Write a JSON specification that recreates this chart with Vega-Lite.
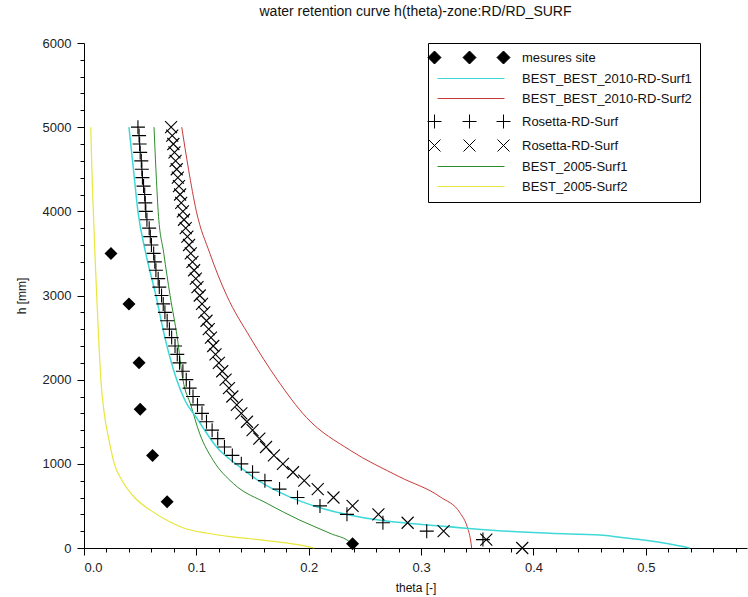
{
  "$schema": "https://vega.github.io/schema/vega-lite/v6.json",
  "width": 663,
  "height": 505,
  "autosize": {"type": "none"},
  "padding": {"left": 84, "top": 43, "right": 1, "bottom": 49},
  "background": "white",
  "title": {"text": "water retention curve h(theta)-zone:RD/RD_SURF", "font": "Liberation Sans", "fontSize": 14, "fontWeight": "normal", "color": "#111", "anchor": "middle", "offset": 18},
  "datasets": {
    "site": [
      {"t": 0.024, "h": 3500}, {"t": 0.040, "h": 2900}, {"t": 0.049, "h": 2200}, {"t": 0.050, "h": 1650},
      {"t": 0.061, "h": 1100}, {"t": 0.074, "h": 550}, {"t": 0.239, "h": 50}
    ],
    "surf1_2010": [
      {"t": 0.040, "h": 5000}, {"t": 0.044, "h": 4500}, {"t": 0.048, "h": 4000}, {"t": 0.055, "h": 3500},
      {"t": 0.064, "h": 3000}, {"t": 0.072, "h": 2500}, {"t": 0.0825, "h": 2000}, {"t": 0.090, "h": 1750},
      {"t": 0.100, "h": 1550}, {"t": 0.118, "h": 1200}, {"t": 0.139, "h": 960}, {"t": 0.157, "h": 785},
      {"t": 0.183, "h": 607}, {"t": 0.207, "h": 490}, {"t": 0.237, "h": 390}, {"t": 0.267, "h": 323},
      {"t": 0.296, "h": 284}, {"t": 0.342, "h": 233}, {"t": 0.385, "h": 193}, {"t": 0.415, "h": 174},
      {"t": 0.459, "h": 154}, {"t": 0.480, "h": 122}, {"t": 0.498, "h": 95}, {"t": 0.520, "h": 50},
      {"t": 0.539, "h": 0}
    ],
    "surf2_2010": [
      {"t": 0.087, "h": 5000}, {"t": 0.093, "h": 4500}, {"t": 0.100, "h": 4000}, {"t": 0.112, "h": 3500},
      {"t": 0.127, "h": 3000}, {"t": 0.148, "h": 2500}, {"t": 0.172, "h": 2000}, {"t": 0.198, "h": 1550},
      {"t": 0.237, "h": 1160}, {"t": 0.281, "h": 844}, {"t": 0.317, "h": 607}, {"t": 0.335, "h": 410},
      {"t": 0.341, "h": 252}, {"t": 0.344, "h": 95}, {"t": 0.345, "h": 0}
    ],
    "surf1_2005": [
      {"t": 0.0623, "h": 5000}, {"t": 0.064, "h": 4500}, {"t": 0.066, "h": 4000}, {"t": 0.071, "h": 3500},
      {"t": 0.0766, "h": 3000}, {"t": 0.083, "h": 2500}, {"t": 0.088, "h": 2000}, {"t": 0.095, "h": 1700},
      {"t": 0.103, "h": 1357}, {"t": 0.115, "h": 1041}, {"t": 0.133, "h": 765}, {"t": 0.163, "h": 529},
      {"t": 0.192, "h": 331}, {"t": 0.219, "h": 174}, {"t": 0.238, "h": 55}, {"t": 0.241, "h": 0}
    ],
    "surf2_2005": [
      {"t": 0.006, "h": 5000}, {"t": 0.007, "h": 4500}, {"t": 0.0083, "h": 4000}, {"t": 0.0097, "h": 3500},
      {"t": 0.0113, "h": 3000}, {"t": 0.013, "h": 2500}, {"t": 0.015, "h": 2000}, {"t": 0.018, "h": 1600},
      {"t": 0.022, "h": 1300}, {"t": 0.027, "h": 1000}, {"t": 0.034, "h": 800}, {"t": 0.045, "h": 600},
      {"t": 0.059, "h": 450}, {"t": 0.075, "h": 320}, {"t": 0.088, "h": 240}, {"t": 0.110, "h": 175},
      {"t": 0.130, "h": 135}, {"t": 0.148, "h": 110}, {"t": 0.170, "h": 75}, {"t": 0.190, "h": 40},
      {"t": 0.205, "h": 0}
    ],
    "rosetta_plus": [
      {"t": 0.355, "h": 100}, {"t": 0.305, "h": 200}, {"t": 0.266, "h": 300}, {"t": 0.234, "h": 400},
      {"t": 0.210, "h": 500}, {"t": 0.190, "h": 600}, {"t": 0.174, "h": 700}, {"t": 0.161, "h": 800},
      {"t": 0.150, "h": 900}, {"t": 0.140, "h": 1000}, {"t": 0.132, "h": 1100}, {"t": 0.125, "h": 1200},
      {"t": 0.119, "h": 1300}, {"t": 0.114, "h": 1400}, {"t": 0.109, "h": 1500}, {"t": 0.105, "h": 1600},
      {"t": 0.101, "h": 1700}, {"t": 0.097, "h": 1800}, {"t": 0.094, "h": 1900}, {"t": 0.091, "h": 2000},
      {"t": 0.088, "h": 2100}, {"t": 0.085, "h": 2200}, {"t": 0.083, "h": 2300}, {"t": 0.081, "h": 2400},
      {"t": 0.078, "h": 2500}, {"t": 0.076, "h": 2600}, {"t": 0.074, "h": 2700}, {"t": 0.072, "h": 2800},
      {"t": 0.0705, "h": 2900}, {"t": 0.069, "h": 3000}, {"t": 0.067, "h": 3100}, {"t": 0.066, "h": 3200},
      {"t": 0.064, "h": 3300}, {"t": 0.063, "h": 3400}, {"t": 0.062, "h": 3500}, {"t": 0.060, "h": 3600},
      {"t": 0.059, "h": 3700}, {"t": 0.058, "h": 3800}, {"t": 0.056, "h": 3900}, {"t": 0.055, "h": 4000},
      {"t": 0.0545, "h": 4100}, {"t": 0.054, "h": 4200}, {"t": 0.053, "h": 4300}, {"t": 0.052, "h": 4400},
      {"t": 0.0515, "h": 4500}, {"t": 0.051, "h": 4600}, {"t": 0.050, "h": 4700}, {"t": 0.0495, "h": 4800},
      {"t": 0.049, "h": 4900}, {"t": 0.048, "h": 5000}
    ],
    "rosetta_x": [
      {"t": 0.390, "h": 0}, {"t": 0.358, "h": 100}, {"t": 0.320, "h": 200}, {"t": 0.288, "h": 300},
      {"t": 0.262, "h": 400}, {"t": 0.239, "h": 500}, {"t": 0.222, "h": 600}, {"t": 0.208, "h": 700},
      {"t": 0.196, "h": 800}, {"t": 0.186, "h": 900}, {"t": 0.177, "h": 1000}, {"t": 0.169, "h": 1100},
      {"t": 0.162, "h": 1200}, {"t": 0.156, "h": 1300}, {"t": 0.150, "h": 1400}, {"t": 0.145, "h": 1500},
      {"t": 0.140, "h": 1600}, {"t": 0.136, "h": 1700}, {"t": 0.132, "h": 1800}, {"t": 0.129, "h": 1900},
      {"t": 0.126, "h": 2000}, {"t": 0.123, "h": 2100}, {"t": 0.120, "h": 2200}, {"t": 0.117, "h": 2300},
      {"t": 0.115, "h": 2400}, {"t": 0.113, "h": 2500}, {"t": 0.111, "h": 2600}, {"t": 0.109, "h": 2700},
      {"t": 0.107, "h": 2800}, {"t": 0.105, "h": 2900}, {"t": 0.103, "h": 3000}, {"t": 0.101, "h": 3100},
      {"t": 0.0995, "h": 3200}, {"t": 0.098, "h": 3300}, {"t": 0.0965, "h": 3400}, {"t": 0.095, "h": 3500},
      {"t": 0.0935, "h": 3600}, {"t": 0.092, "h": 3700}, {"t": 0.0905, "h": 3800}, {"t": 0.089, "h": 3900},
      {"t": 0.088, "h": 4000}, {"t": 0.0865, "h": 4100}, {"t": 0.0855, "h": 4200}, {"t": 0.0845, "h": 4300},
      {"t": 0.0835, "h": 4400}, {"t": 0.0825, "h": 4500}, {"t": 0.0815, "h": 4600}, {"t": 0.0805, "h": 4700},
      {"t": 0.0795, "h": 4800}, {"t": 0.0785, "h": 4900}, {"t": 0.0775, "h": 5000}
    ],
    "legend": [
      {"s": "mesures site"}
    ]
  },
  "layer": [
    {
      "data": {"name": "surf2_2005"},
      "mark": {"type": "line", "color": "#e8e63a", "strokeWidth": 1.2, "interpolate": "monotone", "orient": "vertical"},
      "encoding": {
        "x": {"field": "t", "type": "quantitative", "scale": {"domain": [0, 0.59], "nice": false, "zero": false},
              "axis": {"orient": "bottom", "values": [0, 0.1, 0.2, 0.3, 0.4, 0.5], "format": ".1f", "title": "theta [-]", "tickSize": 7, "labelPadding": 6, "titlePadding": 8}},
        "y": {"field": "h", "type": "quantitative", "scale": {"domain": [0, 6000], "nice": false, "zero": false},
              "axis": {"orient": "left", "values": [0, 1000, 2000, 3000, 4000, 5000, 6000], "format": "d", "title": "h [mm]", "tickSize": 7, "labelPadding": 6, "titlePadding": 14}},
        "order": {"field": "h", "type": "quantitative"}
      }
    },
    {
      "data": {"name": "surf1_2005"},
      "mark": {"type": "line", "color": "#2e8b2e", "strokeWidth": 1, "interpolate": "monotone", "orient": "vertical"},
      "encoding": {
        "x": {"field": "t", "type": "quantitative",
              "axis": {"orient": "bottom", "values": [0.02, 0.04, 0.06, 0.08, 0.12, 0.14, 0.16, 0.18, 0.22, 0.24, 0.26, 0.28, 0.32, 0.34, 0.36, 0.38, 0.42, 0.44, 0.46, 0.48, 0.52, 0.54, 0.56, 0.58], "labels": false, "domain": false, "tickSize": 4, "title": null}},
        "y": {"field": "h", "type": "quantitative",
              "axis": {"orient": "left", "values": [200, 400, 600, 800, 1200, 1400, 1600, 1800, 2200, 2400, 2600, 2800, 3200, 3400, 3600, 3800, 4200, 4400, 4600, 4800, 5200, 5400, 5600, 5800], "labels": false, "domain": false, "tickSize": 4, "title": null}},
        "order": {"field": "h", "type": "quantitative"}
      }
    },
    {
      "data": {"name": "surf2_2010"},
      "mark": {"type": "line", "color": "#c83a3a", "strokeWidth": 1, "interpolate": "monotone", "orient": "vertical"},
      "encoding": {
        "x": {"field": "t", "type": "quantitative", "axis": null},
        "y": {"field": "h", "type": "quantitative", "axis": null},
        "order": {"field": "h", "type": "quantitative"}
      }
    },
    {
      "data": {"name": "surf1_2010"},
      "mark": {"type": "line", "color": "#3fd8d8", "strokeWidth": 1.5, "interpolate": "monotone", "orient": "vertical"},
      "encoding": {
        "x": {"field": "t", "type": "quantitative", "axis": null},
        "y": {"field": "h", "type": "quantitative", "axis": null},
        "order": {"field": "h", "type": "quantitative"}
      }
    },
    {
      "data": {"name": "site"},
      "mark": {"type": "point", "shape": "M0,-1L1,0L0,1L-1,0Z", "size": 169, "filled": true, "color": "black", "opacity": 1},
      "encoding": {
        "x": {"field": "t", "type": "quantitative", "axis": null},
        "y": {"field": "h", "type": "quantitative", "axis": null}
      }
    },
    {
      "data": {"name": "rosetta_plus"},
      "mark": {"type": "point", "shape": "M-1,0L1,0M0,-1L0,1", "size": 196, "filled": false, "color": "black", "strokeWidth": 1.1, "opacity": 1},
      "encoding": {
        "x": {"field": "t", "type": "quantitative", "axis": null},
        "y": {"field": "h", "type": "quantitative", "axis": null}
      }
    },
    {
      "data": {"name": "rosetta_x"},
      "mark": {"type": "point", "shape": "M-1,-1L1,1M-1,1L1,-1", "size": 144, "filled": false, "color": "black", "strokeWidth": 1.1, "opacity": 1},
      "encoding": {
        "x": {"field": "t", "type": "quantitative", "axis": null},
        "y": {"field": "h", "type": "quantitative", "axis": null}
      }
    },
    {
      "data": {"name": "legend"},
      "transform": [{"filter": "false"}],
      "mark": {"type": "point", "filled": false, "fill": "black", "strokeWidth": 1, "opacity": 1},
      "encoding": {
        "color": {"field": "s", "type": "nominal",
          "scale": {"domain": ["mesures site", "BEST_BEST_2010-RD-Surf1", "BEST_BEST_2010-RD-Surf2", "Rosetta-RD-Surf|plus", "Rosetta-RD-Surf|cross", "BEST_2005-Surf1", "BEST_2005-Surf2"],
                    "range": ["black", "#3fd8d8", "#c83a3a", "black", "black", "#2e8b2e", "#e8e63a"]},
          "legend": {"title": null, "orient": "none", "legendX": 344, "legendY": 0, "labelExpr": "split(datum.label, '|')[0] + '\u00a0\u00a0\u00a0\u00a0\u00a0\u00a0\u00a0\u00a0\u00a0\u00a0'"}},
        "shape": {"field": "s", "type": "nominal",
          "scale": {"domain": ["mesures site", "BEST_BEST_2010-RD-Surf1", "BEST_BEST_2010-RD-Surf2", "Rosetta-RD-Surf|plus", "Rosetta-RD-Surf|cross", "BEST_2005-Surf1", "BEST_2005-Surf2"],
                    "range": [
                      "M-1.6,-1.3L-0.3,0L-1.6,1.3L-2.9,0ZM5.4,-1.3L6.7,0L5.4,1.3L4.1,0ZM12.2,-1.3L13.5,0L12.2,1.3L10.9,0Z",
                      "M-1,0L12.4,0",
                      "M-1,0L12.4,0",
                      "M-3,0L-0.2,0M-1.6,-1.4L-1.6,1.4M4,0L6.8,0M5.4,-1.4L5.4,1.4M10.8,0L13.6,0M12.2,-1.4L12.2,1.4",
                      "M-2.8,-1.2L-0.4,1.2M-2.8,1.2L-0.4,-1.2M4.2,-1.2L6.6,1.2M4.2,1.2L6.6,-1.2M11,-1.2L13.4,1.2M11,1.2L13.4,-1.2",
                      "M-1,0L12.4,0",
                      "M-1,0L12.4,0"
                    ]},
          "legend": {"title": null, "orient": "none", "legendX": 344, "legendY": 0, "labelExpr": "split(datum.label, '|')[0] + '\u00a0\u00a0\u00a0\u00a0\u00a0\u00a0\u00a0\u00a0\u00a0\u00a0'"}}
      }
    }
  ],
  "resolve": {"axis": {"x": "independent", "y": "independent"}},
  "config": {
    "view": {"stroke": null},
    "axis": {
      "grid": false,
      "domainColor": "black",
      "tickColor": "black",
      "labelColor": "#222",
      "labelFont": "Liberation Sans",
      "labelFontSize": 13,
      "titleFont": "Liberation Sans",
      "titleFontSize": 12,
      "titleFontWeight": "normal",
      "titleColor": "#111"
    },
    "legend": {
      "strokeColor": "black",
      "fillColor": "white",
      "padding": 8,
      "symbolSize": 100,
      "symbolStrokeWidth": 1,
      "labelOffset": 73,
      "rowPadding": 6,
      "labelFont": "Liberation Sans",
      "labelFontSize": 13,
      "labelColor": "#111",
      "labelLimit": 0
    }
  }
}
